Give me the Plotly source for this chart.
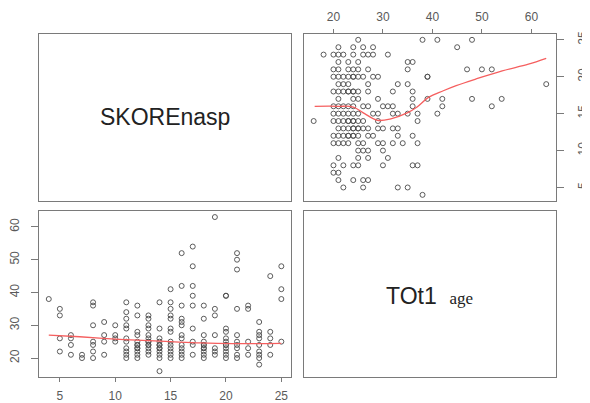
import plotly.graph_objects as go

# ---------------- data (SKOREnasp, age) pairs ----------------
skore = [
    25, 25, 25, 25,
    24, 24, 24, 24, 24,
    23, 23, 23, 23, 23, 23, 23, 23, 23,
    22, 22, 22, 22, 22,
    21, 21, 21, 21, 21, 21, 21, 21, 21, 21,
    20, 20, 20, 20, 20, 20, 20, 20, 20, 20, 20, 20,
    19, 19, 19, 19, 19, 19, 19,
    18, 18, 18, 18, 18, 18, 18, 18, 18, 18, 18,
    17, 17, 17, 17, 17, 17, 17, 17, 17,
    16, 16, 16, 16, 16, 16, 16, 16, 16, 16, 16, 16, 16,
    15, 15, 15, 15, 15, 15, 15, 15, 15, 15, 15, 15, 15,
    14, 14, 14, 14, 14, 14, 14, 14, 14, 14, 14, 14,
    13, 13, 13, 13, 13, 13, 13, 13, 13, 13, 13, 13, 13,
    12, 12, 12, 12, 12, 12, 12, 12, 12, 12, 12, 12,
    11, 11, 11, 11, 11, 11, 11, 11, 11, 11, 11,
    10, 10, 10, 10,
    9, 9, 9, 9,
    8, 8, 8, 8, 8, 8, 8,
    7, 7,
    6, 6, 6, 6,
    5, 5, 5, 5,
    4,
]
age = [
    25, 38, 41, 48,
    21, 24, 26, 28, 45,
    18, 20, 21, 22, 24, 26, 27, 28, 31,
    21, 23, 25, 35, 36,
    20, 21, 23, 24, 25, 27, 35, 47, 50, 52,
    20, 21, 22, 23, 24, 24, 25, 26, 28, 29, 39, 39,
    21, 22, 23, 27, 33, 35, 63,
    20, 21, 22, 23, 23, 24, 24, 25, 27, 32, 36,
    21, 24, 25, 29, 36, 39, 42, 48, 54,
    20, 21, 22, 23, 24, 26, 27, 30, 31, 32, 36, 42, 52,
    20, 21, 22, 23, 24, 25, 28, 29, 32, 33, 35, 37, 41,
    16, 20, 21, 22, 23, 23, 24, 24, 25, 26, 29, 37,
    21, 22, 23, 24, 24, 25, 25, 26, 27, 29, 30, 32, 33,
    20, 21, 22, 23, 23, 24, 24, 25, 27, 28, 33, 36,
    20, 21, 22, 23, 25, 26, 29, 30, 32, 34, 37,
    25, 26, 27, 30,
    21, 25, 27, 31,
    20, 22, 24, 25, 30, 36, 37,
    20, 21,
    21, 24, 26, 27,
    22, 26, 33, 35,
    38,
]

# smoother: skore as a function of age (upper right)
smooth_age_x = [16.2, 21.0, 24.0, 26.3, 28.9, 31.6, 34.9, 36.9, 39.2, 42.2, 44.8, 48.8, 54.1, 59.4, 63.0]
smooth_age_y = [16.0, 16.0, 15.9, 15.0, 14.1, 14.3, 15.1, 15.9, 17.2, 18.1, 18.8, 19.7, 20.8, 21.7, 22.5]
# smoother: age as a function of skore (lower left)
smooth_sk_x = [4.0, 6.8, 10.0, 13.0, 15.0, 17.7, 20.6, 25.0]
smooth_sk_y = [27.0, 26.5, 25.8, 25.3, 25.0, 24.6, 24.4, 24.5]

skore_ticks = [5, 10, 15, 20, 25]
age_ticks_bottom = [20, 30, 40, 50, 60]
age_ticks_top = [20, 30, 40, 50, 60]
skore_range = [3.16, 25.84]
age_range = [14.12, 64.88]

var_labels = ["SKOREnasp", "TOt1"]

# ---------------- figure ----------------
# page body has an 8px margin, so the figure is drawn 8px in from the top-left
OFF = 8
W, H = 590 - OFF, 403 - OFF
def px_x(a, b):
    return [(a - OFF) / W, (b - OFF) / W]
def px_y(top, bottom):
    return [1 - (bottom - OFF) / H, 1 - (top - OFF) / H]

col1 = px_x(36, 292)
col2 = px_x(306, 562)
row1 = px_y(32, 202)
row2 = px_y(212, 381)

PT = "#4a4a4a"
LINE = "rgb(245,95,95)"
FRAME = "#7a7a7a"
TICKF = dict(family="Liberation Sans, Arial, sans-serif", size=12, color="#5a5a5a")

fig = go.Figure()
mk = dict(symbol="circle-open", size=5, color=PT, line=dict(width=0.9, color=PT))
# lower left: x = SKOREnasp, y = age
fig.add_trace(go.Scatter(x=skore, y=age, mode="markers", xaxis="x", yaxis="y",
                         marker=mk, showlegend=False, hoverinfo="skip"))
fig.add_trace(go.Scatter(x=smooth_sk_x, y=smooth_sk_y, mode="lines", xaxis="x", yaxis="y",
                         line=dict(color=LINE, width=1.3, shape="spline"), showlegend=False))
# upper right: x = age, y = SKOREnasp
fig.add_trace(go.Scatter(x=age, y=skore, mode="markers", xaxis="x2", yaxis="y2",
                         marker=mk, showlegend=False, hoverinfo="skip"))
fig.add_trace(go.Scatter(x=smooth_age_x, y=smooth_age_y, mode="lines", xaxis="x2", yaxis="y2",
                         line=dict(color=LINE, width=1.3, shape="spline"), showlegend=False))

frame = dict(showline=True, mirror=True, linecolor=FRAME, linewidth=1.2, showgrid=False, zeroline=False)

fig.update_layout(
    width=W, height=H, margin=dict(l=0, r=0, t=0, b=0),
    paper_bgcolor="white", plot_bgcolor="white",
    xaxis=dict(domain=col1, anchor="y", range=skore_range, tickvals=skore_ticks, side="bottom",
               ticks="outside", ticklen=4, tickwidth=1, tickcolor=FRAME, tickfont=TICKF,
               ticklabelstandoff=3, **frame),
    yaxis=dict(domain=row2, anchor="x", range=age_range, tickvals=age_ticks_bottom, side="left",
               ticks="outside", ticklen=7, tickwidth=1, tickcolor=FRAME, tickfont=TICKF, tickangle=-90,
               ticklabelstandoff=8, **frame),
    xaxis2=dict(domain=col2, anchor="y2", range=age_range, tickvals=age_ticks_top, side="top",
                ticks="outside", ticklen=4, tickwidth=1, tickcolor=FRAME, tickfont=TICKF,
                ticklabelstandoff=3, **frame),
    yaxis2=dict(domain=row1, anchor="x2", range=skore_range, tickvals=skore_ticks, side="right",
                ticks="outside", ticklen=7, tickwidth=1, tickcolor=FRAME, tickfont=TICKF, tickangle=-90,
                ticklabelstandoff=9, **frame),
    xaxis3=dict(domain=col1, anchor="y3", range=[0, 1], showticklabels=False, ticks="", **frame),
    yaxis3=dict(domain=row1, anchor="x3", range=[0, 1], showticklabels=False, ticks="", **frame),
    xaxis4=dict(domain=col2, anchor="y4", range=[0, 1], showticklabels=False, ticks="", **frame),
    yaxis4=dict(domain=row2, anchor="x4", range=[0, 1], showticklabels=False, ticks="", **frame),
)

fig.add_annotation(x=0.5, y=0.5, xref="x3", yref="y3", text=var_labels[0], showarrow=False,
                   font=dict(family="Liberation Sans, Arial, sans-serif", size=23, color="#222222"))
fig.add_annotation(x=0.5, y=0.49, xref="x4", yref="y4",
                   text=var_labels[1] + "  <span style='font-family:Liberation Serif, Times New Roman, serif;font-size:17px'>age</span>",
                   showarrow=False,
                   font=dict(family="Liberation Sans, Arial, sans-serif", size=23, color="#222222"))

fig.write_html("out.html")
